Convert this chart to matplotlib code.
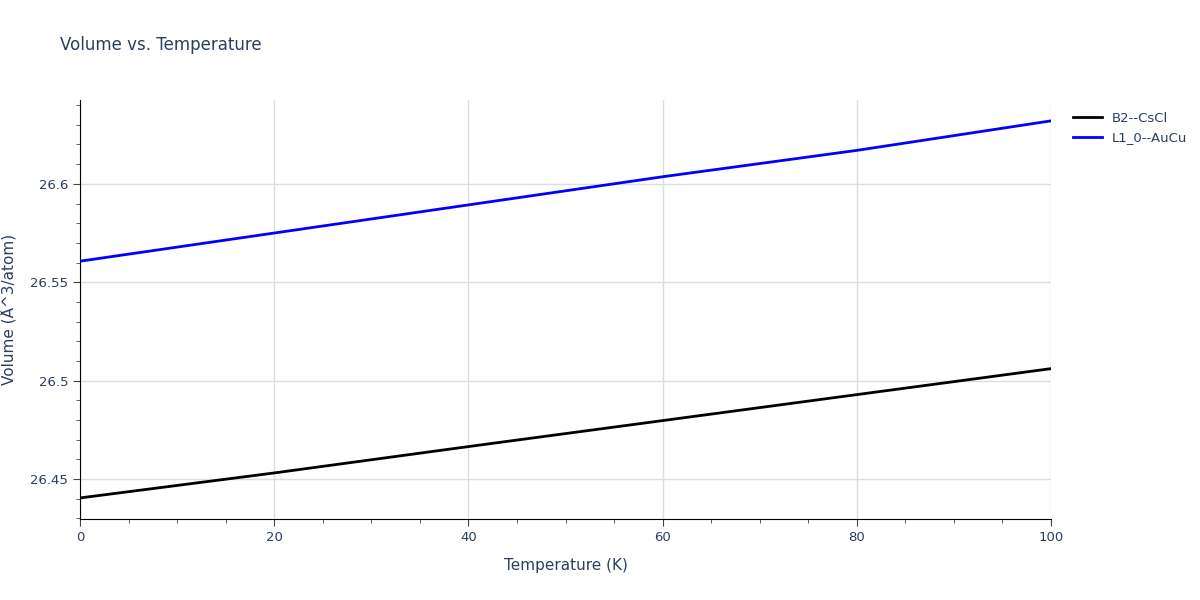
import matplotlib
matplotlib.use("Agg")
import matplotlib.pyplot as plt
from matplotlib.ticker import MultipleLocator

temps = [0, 20, 40, 60, 80, 100]
b2_cscl = [26.4404, 26.4531, 26.4665, 26.4797, 26.4929, 26.5061]
l10_aucu = [26.5607, 26.5750, 26.5893, 26.6036, 26.6170, 26.6320]
names = ["B2--CsCl", "L1_0--AuCu"]
colors = ["#000000", "#0000ff"]

fig = plt.figure(figsize=(12, 6), dpi=100)
ax = fig.add_axes([80/1200, 81/600, 971/1200, 419/600])
for ys, n, c in zip([b2_cscl, l10_aucu], names, colors):
    ax.plot(temps, ys, color=c, lw=2, label=n)
ax.set_xlim(0, 100)
ax.set_ylim(26.4297, 26.6426)
ax.xaxis.set_major_locator(MultipleLocator(20))
ax.xaxis.set_minor_locator(MultipleLocator(5))
ax.yaxis.set_major_locator(MultipleLocator(0.05))
ax.yaxis.set_minor_locator(MultipleLocator(0.01))
ax.yaxis.set_major_formatter(matplotlib.ticker.FuncFormatter(lambda v, p: f"{v:.2f}".rstrip('0').rstrip('.')))
ax.grid(True, which="major", color="#dddddd", lw=1)
ax.set_axisbelow(True)
for s in ["top", "right"]:
    ax.spines[s].set_visible(False)
tc = "#2a3f5f"
ax.tick_params(which="major", direction="out", length=5, colors="#444444", labelcolor=tc, labelsize=9.5)
ax.tick_params(which="minor", direction="out", length=3, colors="#444444")
ax.set_xlabel("Temperature (K)", color=tc, fontsize=11, labelpad=10)
ax.set_ylabel("Volume (Å^3/atom)", color=tc, fontsize=11, labelpad=10)
fig.text(60/1200, 1 - 45/600, "Volume vs. Temperature", color=tc, fontsize=12, va="center")
leg = ax.legend(loc="upper left", bbox_to_anchor=(1.01, 1.0), frameon=False, fontsize=9.5, handlelength=2.2)
for t in leg.get_texts():
    t.set_color(tc)
fig.savefig("out.png", dpi=100)
